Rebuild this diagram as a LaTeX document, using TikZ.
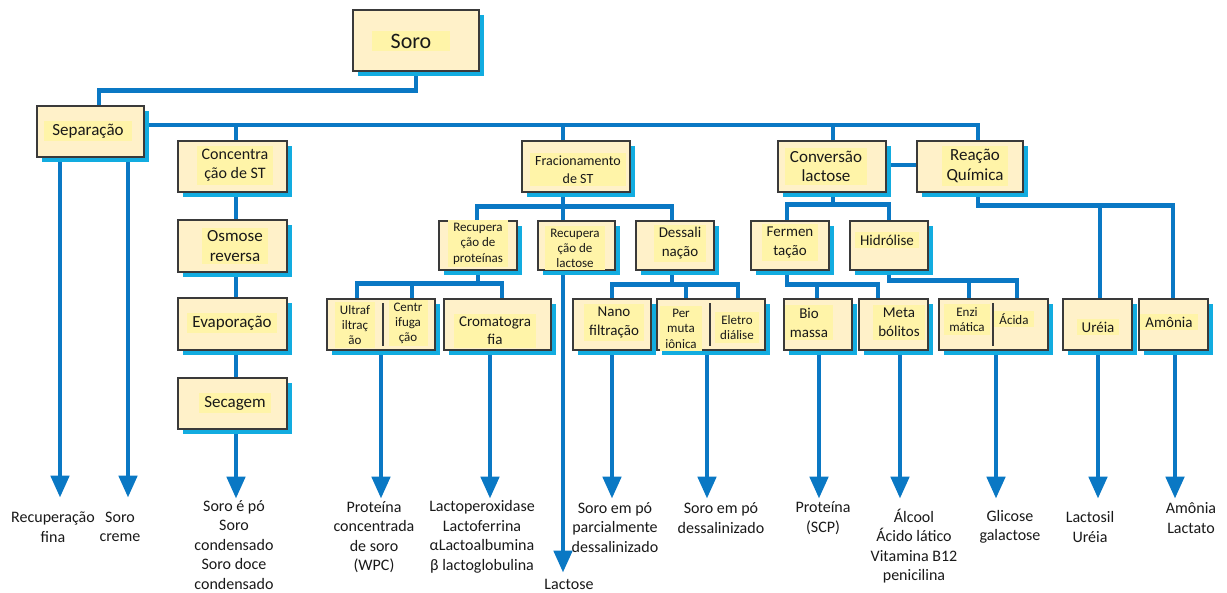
\documentclass[tikz,border=0pt]{standalone}
\usepackage{fontspec}
\setmainfont{Carlito}
\usetikzlibrary{arrows.meta,calc,shadows}
\definecolor{lnc}{HTML}{0A78C4}
\definecolor{shc}{HTML}{12ACE0}
\definecolor{boxf}{HTML}{FFF1C9}
\definecolor{hl}{HTML}{FFF4A8}
\definecolor{brd}{HTML}{3A3A3A}
\pgfdeclarelayer{bg}
\pgfsetlayers{bg,main}
\tikzset{
 ln/.style={draw=lnc, line width=4.7pt},
 arr/.style={ln, -{Triangle[width=18pt,length=22pt]}},
 box/.style={draw=brd, line width=1.3pt, fill=boxf, inner sep=0,
   drop shadow={shadow xshift=5pt, shadow yshift=-5pt, fill=shc, opacity=1}},
 lbl/.style={fill=hl, inner xsep=5pt, inner ysep=3pt, align=center, text=black!90},
 outtxt/.style={inner sep=0, align=center, text=black!90, font=\fontsize{16}{19.5}\selectfont},
 divl/.style={draw=brd, line width=1.3pt}
}
\newcommand\bx[5]{\node[box, minimum width={#4-#2}, minimum height={#5-#3}] (#1) at ({(#2+#4)/2},{(#3+#5)/2}) {};}
\newcommand\tx[6]{\node[lbl, font=\fontsize{#4}{#5}\selectfont] (#1) at (#2,#3) {#6};}
\begin{document}
\begin{tikzpicture}[x=1pt,y=-1pt]
\useasboundingbox (0,0) rectangle (1227,593);
% boxes
\bx{soro}{353}{10}{479}{71}
\bx{sep}{37}{106}{144}{157}
\bx{conc}{178}{141}{287}{192}
\bx{osm}{178}{220}{287}{272}
\bx{evap}{178}{298}{287}{350}
\bx{sec}{178}{378}{287}{429}
\bx{frac}{522}{141}{630}{192}
\bx{conv}{778}{141}{886}{192}
\bx{reac}{917}{141}{1023}{192}
\bx{recp}{439}{221}{517}{270}
\bx{recl}{538}{221}{615}{270}
\bx{dess}{636}{221}{714}{270}
\bx{ferm}{751}{221}{829}{270}
\bx{hidr}{850}{221}{928}{270}
\bx{ultra}{327}{299}{435}{350}
\bx{crom}{444}{299}{551}{350}
\bx{nano}{573}{299}{651}{350}
\bx{perm}{657}{299}{765}{350}
\bx{bio}{784}{299}{852}{350}
\bx{meta}{859}{299}{928}{350}
\bx{enz}{939}{299}{1048}{350}
\bx{ureia}{1063}{299}{1132}{350}
\bx{amon}{1139}{299}{1208}{350}
% dividers
\draw[divl] ($(ultra.north)+(2,5)$) -- ($(ultra.south)+(2,-5)$);
\draw[divl] ($(perm.north)+(-1,5)$) -- ($(perm.south)+(-1,-5)$);
\draw[divl] ($(enz.north)+(-0.5,5)$) -- ($(enz.south)+(-0.5,-5)$);
% box texts
\tx{soroT}{411}{41}{22}{26}{\hspace{14pt}Soro\hspace{14pt}}
\tx{sepT}{88}{131}{17}{20}{\hspace{3pt}Separação\hspace{3pt}}
\tx{concT}{235}{165.5}{16}{19}{Concentra\\ção de ST}
\tx{osmT}{235}{246}{17}{19.7}{Osmose\\reversa}
\tx{evapT}{232}{323}{17}{20}{Evaporação}
\tx{secT}{235}{403}{17}{20}{Secagem}
\tx{fracT}{578}{169.5}{14}{17.7}{Fracionamento\\de ST}
\tx{convT}{826}{166.5}{17}{19.3}{Conversão\\lactose}
\tx{reacT}{975}{166}{17}{20}{Reação\\Química}
\tx{recpT}{478}{243.5}{13}{15.5}{Recupera\\ção de\\proteínas}
\tx{reclT}{575}{248}{13}{15}{Recupera\\ção de\\lactose}
\tx{dessT}{680}{243.5}{15}{19}{Dessali\\nação}
\tx{fermT}{790}{242.5}{15}{19}{Fermen\\tação}
\tx{hidrT}{887}{240}{15}{19}{Hidrólise}
\tx{ultraT}{355}{325}{13}{15}{Ultraf\\iltraç\\ão}
\tx{centT}{408}{323}{13}{15}{Centr\\ifuga\\ção}
\tx{cromT}{495}{331}{15}{18.3}{Cromatogra\\fia}
\tx{nanoT}{614}{322.5}{15}{19}{Nano\\filtração}
\tx{permT}{681}{328.5}{13}{15.5}{Per\\muta\\iônica}
\tx{eletT}{737}{327.5}{13}{15}{Eletro\\diálise}
\tx{bioT}{809}{322.5}{15}{19}{Bio\\massa}
\tx{metaT}{899}{322.5}{15}{19}{Meta\\bólitos}
\tx{enzT}{967}{319.5}{13}{15}{Enzi\\mática}
\tx{acidT}{1014}{319}{13}{15}{Ácida}
\tx{ureiaT}{1098}{327}{15}{19}{Uréia}
\tx{amonT}{1169}{322}{15}{19}{Amônia}
% output texts
\node[outtxt] (o1) at (53,527) {Recuperação\\fina};
\node[outtxt] (o2) at (120,527) {Soro\\creme};
\node[outtxt] (o3) at (234,545) {Soro é pó\\Soro\\condensado\\Soro doce\\condensado};
\node[outtxt] (o4) at (374,537) {Proteína\\concentrada\\de soro\\(WPC)};
\node[outtxt] (o5) at (482,537) {Lactoperoxidase\\Lactoferrina\\αLactoalbumina\\β lactoglobulina};
\node[outtxt] (o6) at (569,584) {Lactose};
\node[outtxt] (o7) at (615,527.5) {Soro em pó\\parcialmente\\dessalinizado};
\node[outtxt] (o8) at (721,518) {Soro em pó\\dessalinizado};
\node[outtxt] (o9) at (823,518) {Proteína\\(SCP)};
\node[outtxt] (o10) at (914,546) {Álcool\\Ácido lático\\Vitamina B12\\penicilina};
\node[outtxt] (o11) at (1010,527) {Glicose\\galactose};
\node[outtxt] (o12) at (1090,527) {Lactosil\\Uréia};
\node[outtxt] (o13) at (1191,518) {Amônia\\Lactato};
% connectors
\begin{pgfonlayer}{bg}
\fill[white] (0,0) rectangle (1227,593);
\draw[ln] (soro.south) -- ++(0,19) -| ($(sep.north)+(8.5,0)$);
\draw[ln] ($(sep.east)+(0,-6.5)$) -| ($(reac.north)+(8,0)$);
\draw[ln] ($(conc.north)+(3.5,0)$) -- ++(0,-16);
\draw[ln] ($(frac.north)+(-13,0)$) -- ++(0,-16);
\draw[ln] ($(conv.north)+(1,0)$) -- ++(0,-16);
\draw[ln] ($(conv.east)+(0,-1.5)$) -- ($(reac.west)+(0,-1.5)$);
\draw[ln] ($(conc.south)+(3.5,0)$) -- ($(osm.north)+(3.5,0)$);
\draw[ln] ($(osm.south)+(3.5,0)$) -- ($(evap.north)+(3.5,0)$);
\draw[ln] ($(evap.south)+(3.5,0)$) -- ($(sec.north)+(3.5,0)$);
\draw[ln] ($(frac.south)+(-13,0)$) -- ($(recl.north)+(-13.5,0)$);
\draw[ln] ($(recp.north)+(-1,0)$) -- ++(0,-14) -| ($(dess.north)+(-3,0)$);
\draw[ln] (recp.south) -- ++(0,14);
\draw[ln] ($(ultra.north)+(-24,0)$) -- ++(0,-15) -| ($(crom.north)+(4.5,0)$);
\draw[ln] ($(ultra.north)+(31,0)$) -- ++(0,-15);
\draw[ln] ($(dess.south)+(-3,0)$) -- ++(0,15);
\draw[ln] (nano.north) -- ++(0,-14) -| ($(perm.north)+(27,0)$);
\draw[ln] ($(perm.north)+(-25,0)$) -- ++(0,-14);
\draw[ln] ($(conv.south)+(1,0)$) -- ++(0,13);
\draw[ln] ($(ferm.north)+(-3,0)$) -- ++(0,-16) -| (hidr.north);
\draw[ln] ($(ferm.south)+(-3,0)$) -- ++(0,14) -| ($(meta.north)+(-15.5,0)$);
\draw[ln] ($(bio.north)+(-1,0)$) -- ++(0,-15);
\draw[ln] (hidr.south) -- ++(0,10) -| ($(enz.north)+(23.5,0)$);
\draw[ln] ($(enz.north)+(-24.5,0)$) -- ++(0,-19);
\draw[ln] ($(reac.south)+(8,0)$) -- ++(0,13) -| ($(amon.north)+(-0.5,0)$);
\draw[ln] ($(ureia.north)+(2.5,0)$) -- ++(0,-94);
% arrows
\draw[arr] ($(sep.south)+(-30.5,0)$) -- ++(0,340);
\draw[arr] ($(sep.south)+(37.5,0)$) -- ++(0,340);
\draw[arr] ($(sec.south)+(3.5,0)$) -- ++(0,69);
\draw[arr] (ultra.south) -- ++(0,148);
\draw[arr] ($(crom.south)+(-7.5,0)$) -- ++(0,148);
\draw[arr] ($(recl.south)+(-13.5,0)$) -- ++(0,302);
\draw[arr] (nano.south) -- ++(0,148);
\draw[arr] ($(perm.south)+(-4,0)$) -- ++(0,148);
\draw[arr] ($(bio.south)+(1,0)$) -- ++(0,148);
\draw[arr] ($(meta.south)+(6.5,0)$) -- ++(0,148);
\draw[arr] ($(enz.south)+(2.5,0)$) -- ++(0,148);
\draw[arr] ($(ureia.south)+(0.5,0)$) -- ++(0,148);
\draw[arr] ($(amon.south)+(1.5,0)$) -- ++(0,148);
\end{pgfonlayer}
\end{tikzpicture}
\end{document}
